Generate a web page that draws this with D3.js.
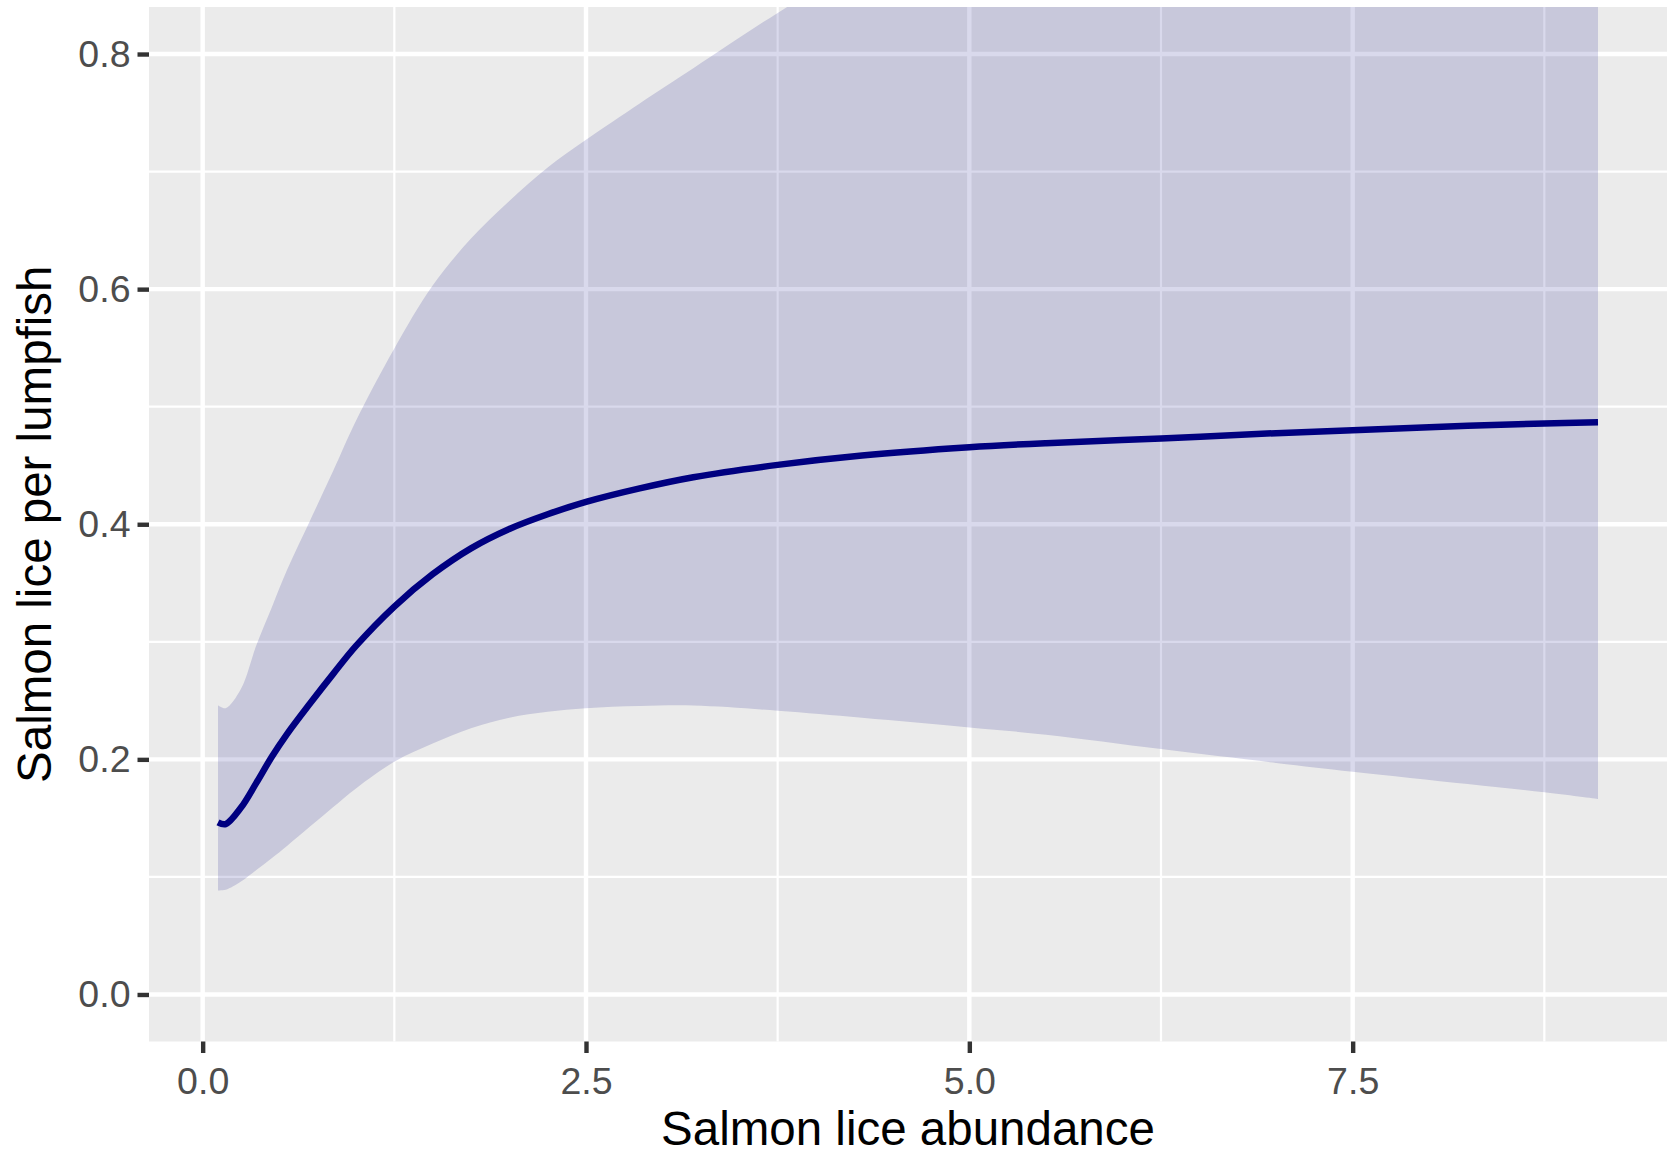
<!DOCTYPE html>
<html>
<head>
<meta charset="utf-8">
<script src="https://cdn.jsdelivr.net/npm/d3@7"></script>
<style>
  body { margin: 0; background: #fff; }
  text { font-family: "Liberation Sans", Arial, sans-serif; }
</style>
</head>
<body>
<svg id="chart" width="1675" height="1156"></svg>
<script>
// values
const abundance = [0.1, 0.15, 0.25, 0.35, 0.45, 0.55, 0.7, 0.85, 1.0, 1.25, 1.5, 1.75, 2.0, 2.25, 2.5,
                   2.85, 3.2, 3.75, 4.3, 5.0, 5.5, 6.25, 7.0, 7.5, 8.25, 8.75, 9.1];
const fit   = [0.1465, 0.145, 0.159, 0.180, 0.202, 0.2215, 0.2475, 0.2725, 0.2965, 0.330, 0.3575, 0.3795, 0.396, 0.4085, 0.419,
               0.4305, 0.440, 0.4505, 0.4585, 0.4655, 0.469, 0.473, 0.4775, 0.480, 0.4838, 0.4858, 0.4867];
const lower = [0.0885, 0.089, 0.096, 0.1058, 0.1158, 0.1263, 0.1428, 0.1593, 0.1753, 0.198, 0.2135, 0.2265, 0.2355, 0.2405, 0.2435,
               0.2453, 0.2458, 0.2414, 0.2355, 0.2272, 0.221, 0.2088, 0.197, 0.1895, 0.179, 0.172, 0.1663];
const upper = [0.246, 0.2435, 0.260, 0.297, 0.329, 0.361, 0.403, 0.445, 0.488, 0.5495, 0.603, 0.643, 0.675, 0.7035, 0.727,
               0.758, 0.788, 0.835, 0.878, 0.935, 0.975, 1.035, 1.095, 1.135, 1.195, 1.235, 1.265];
const xTicks = [0, 2.5, 5, 7.5];
const xMinor = [1.25, 3.75, 6.25, 8.75];
const yTicks = [0, 0.2, 0.4, 0.6, 0.8];
const yMinor = [0.1, 0.3, 0.5, 0.7];

const panel = {left: 149, right: 1667, top: 7, bottom: 1041.5};
const svg = d3.select("#chart");

const x = d3.scaleLinear().domain([-0.35, 9.55]).range([panel.left, panel.right]);
const y = d3.scaleLinear().domain([-0.04, 0.84]).range([panel.bottom, panel.top]);

svg.append("defs").append("clipPath").attr("id", "clip")
  .append("rect")
    .attr("x", panel.left).attr("y", panel.top)
    .attr("width", panel.right - panel.left).attr("height", panel.bottom - panel.top);

svg.append("rect")
  .attr("x", panel.left).attr("y", panel.top)
  .attr("width", panel.right - panel.left).attr("height", panel.bottom - panel.top)
  .attr("fill", "#EBEBEB");

// grid
const grid = svg.append("g");
grid.selectAll(".vminor").data(xMinor).enter().append("line")
  .attr("x1", d => x(d)).attr("x2", d => x(d)).attr("y1", panel.top).attr("y2", panel.bottom)
  .attr("stroke", "#fff").attr("stroke-width", 2.2);
grid.selectAll(".hminor").data(yMinor).enter().append("line")
  .attr("y1", d => y(d)).attr("y2", d => y(d)).attr("x1", panel.left).attr("x2", panel.right)
  .attr("stroke", "#fff").attr("stroke-width", 2.2);
grid.selectAll(".vmajor").data(xTicks).enter().append("line")
  .attr("x1", d => x(d)).attr("x2", d => x(d)).attr("y1", panel.top).attr("y2", panel.bottom)
  .attr("stroke", "#fff").attr("stroke-width", 4.4);
grid.selectAll(".hmajor").data(yTicks).enter().append("line")
  .attr("y1", d => y(d)).attr("y2", d => y(d)).attr("x1", panel.left).attr("x2", panel.right)
  .attr("stroke", "#fff").attr("stroke-width", 4.4);

const rows = abundance.map((a, i) => ({x: a, fit: fit[i], lo: lower[i], hi: upper[i]}));

const plot = svg.append("g").attr("clip-path", "url(#clip)");

plot.append("path")
  .datum(rows)
  .attr("fill", "#000080")
  .attr("fill-opacity", 0.15)
  .attr("d", d3.area()
    .curve(d3.curveCatmullRom.alpha(0.5))
    .x(d => x(d.x))
    .y0(d => y(d.lo))
    .y1(d => y(d.hi)));

plot.append("path")
  .datum(rows)
  .attr("fill", "none")
  .attr("stroke", "#000080")
  .attr("stroke-width", 6.5)
  .attr("d", d3.line()
    .curve(d3.curveCatmullRom.alpha(0.5))
    .x(d => x(d.x))
    .y(d => y(d.fit)));

// axes
const xAxis = svg.append("g")
  .attr("transform", `translate(0,${panel.bottom})`)
  .call(d3.axisBottom(x).tickValues(xTicks).tickFormat(d3.format(".1f"))
    .tickSize(11.5).tickSizeOuter(0).tickPadding(14));
const yAxis = svg.append("g")
  .attr("transform", `translate(${panel.left},0)`)
  .call(d3.axisLeft(y).tickValues(yTicks).tickFormat(d3.format(".1f"))
    .tickSize(11.5).tickSizeOuter(0).tickPadding(7));

[xAxis, yAxis].forEach(function(g) {
  g.select(".domain").remove();
  g.selectAll(".tick line").attr("stroke", "#333333").attr("stroke-width", 4.4);
  g.selectAll(".tick text")
    .attr("fill", "#4D4D4D")
    .style("font-size", "37.5px")
    .style("font-family", "'Liberation Sans', Arial, sans-serif");
});

svg.append("text")
  .attr("x", (panel.left + panel.right) / 2).attr("y", 1145)
  .attr("text-anchor", "middle")
  .style("font-size", "47.5px")
  .text("Salmon lice abundance");

svg.append("text")
  .attr("transform", `translate(51,${(panel.top + panel.bottom) / 2}) rotate(-90)`)
  .attr("text-anchor", "middle")
  .style("font-size", "47.5px")
  .text("Salmon lice per lumpfish");
</script>
</body>
</html>
